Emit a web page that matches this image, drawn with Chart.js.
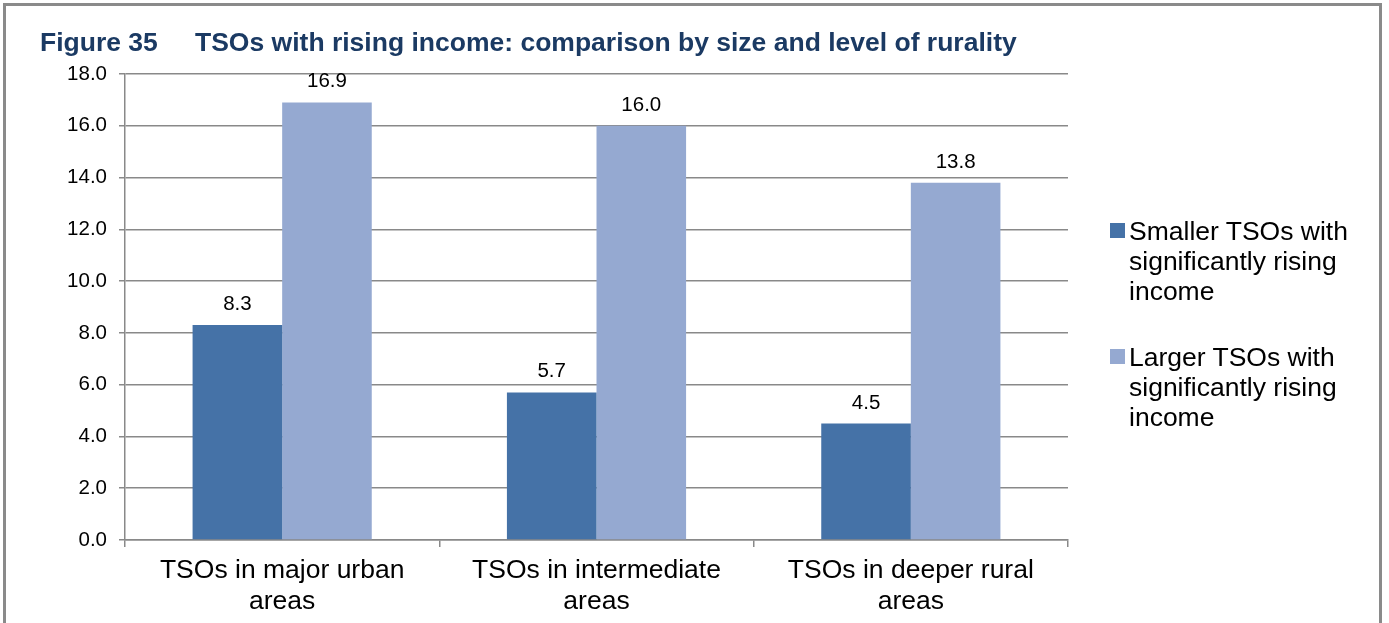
<!DOCTYPE html>
<html>
<head>
<meta charset="utf-8">
<script src="https://cdn.jsdelivr.net/npm/chart.js@4/dist/chart.umd.min.js"></script>
<style>
  html, body { margin: 0; padding: 0; background: #fff; }
  #wrap { position: relative; width: 1389px; height: 623px; overflow: hidden; font-family: "Liberation Sans", Arial, sans-serif; }
  #frame { position: absolute; left: 3px; top: 3px; width: 1379px; height: 640px; border: 3px solid #8a8a8a; box-sizing: border-box; }
  #title { position: absolute; left: 40px; top: 27px; font-weight: bold; font-size: 26.5px; color: #1b3a63; white-space: pre; line-height: 30px; }
  #title span.t { position: absolute; left: 155px; top: 0; }
  canvas { position: absolute; left: 0; top: 0; }
  .lg { position: absolute; left: 1129px; font-size: 26.5px; line-height: 30px; color: #000; white-space: nowrap; }
  .sw { position: absolute; left: 1110px; width: 15px; height: 15px; }
</style>
</head>
<body>
<div id="wrap">
  <div id="frame"></div>
  <canvas id="c" width="1389" height="623"></canvas>
  <div id="title"><span>Figure 35</span><span class="t">TSOs with rising income: comparison by size and level of rurality</span></div>
  <div id="legend"></div>
</div>
<script>
const categories = [
  ["TSOs in major urban", "areas"],
  ["TSOs in intermediate", "areas"],
  ["TSOs in deeper rural", "areas"]
];
const seriesNames = [
  ["Smaller TSOs with", "significantly rising", "income"],
  ["Larger TSOs with", "significantly rising", "income"]
];
const smallerValues = [8.3, 5.7, 4.5];
const largerValues = [16.9, 16.0, 13.8];
const colors = ["#4572a7", "#95a9d1"];
const yMin = 0, yMax = 18, yStep = 2;

// HTML legend
const legend = document.getElementById('legend');
const legendTops = [216, 342];
seriesNames.forEach((lines, i) => {
  const sw = document.createElement('div');
  sw.className = 'sw';
  sw.style.background = colors[i];
  sw.style.top = (legendTops[i] + 7) + 'px';
  legend.appendChild(sw);
  const t = document.createElement('div');
  t.className = 'lg';
  t.style.top = legendTops[i] + 'px';
  t.innerHTML = lines.join('<br>');
  legend.appendChild(t);
});

const gridColor = '#898989';
const fontFamily = '"Liberation Sans", Arial, sans-serif';

const dataLabels = {
  id: 'dataLabels',
  afterDatasetsDraw(chart) {
    const ctx = chart.ctx;
    ctx.save();
    ctx.font = '20.5px ' + fontFamily;
    ctx.fillStyle = '#000';
    ctx.textAlign = 'center';
    ctx.textBaseline = 'alphabetic';
    chart.data.datasets.forEach((ds, di) => {
      chart.getDatasetMeta(di).data.forEach((el, i) => {
        ctx.fillText(ds.data[i].toFixed(1), el.x, el.y - 15);
      });
    });
    ctx.restore();
  }
};

new Chart(document.getElementById('c'), {
  type: 'bar',
  data: {
    labels: categories,
    datasets: [
      { label: seriesNames[0].join(' '), data: smallerValues, backgroundColor: colors[0], categoryPercentage: 0.57, barPercentage: 1 },
      { label: seriesNames[1].join(' '), data: largerValues, backgroundColor: colors[1], categoryPercentage: 0.57, barPercentage: 1 }
    ]
  },
  options: {
    responsive: false,
    animation: false,
    layout: { padding: { left: 0, right: 321, top: 74, bottom: 0 } },
    plugins: { legend: { display: false }, title: { display: false }, tooltip: { enabled: false } },
    scales: {
      x: {
        afterFit(scale) { scale.height = 83; },
        grid: { display: true, drawOnChartArea: false, drawTicks: true, tickLength: 7, offset: true, color: gridColor, lineWidth: 1.5 },
        border: { display: true, color: gridColor, width: 1.5 },
        ticks: { color: '#000', font: { family: fontFamily, size: 26.5, lineHeight: 1.17 }, padding: 8, maxRotation: 0, autoSkip: false }
      },
      y: {
        min: yMin, max: yMax,
        afterFit(scale) { scale.width = 125; },
        grid: { color: gridColor, lineWidth: 1.5, drawTicks: true, tickLength: 6 },
        border: { display: true, color: gridColor, width: 1.5 },
        ticks: { stepSize: yStep, color: '#000', font: { family: fontFamily, size: 20.5 }, padding: 12, callback: v => v.toFixed(1) }
      }
    }
  },
  plugins: [dataLabels]
});
</script>
</body>
</html>
